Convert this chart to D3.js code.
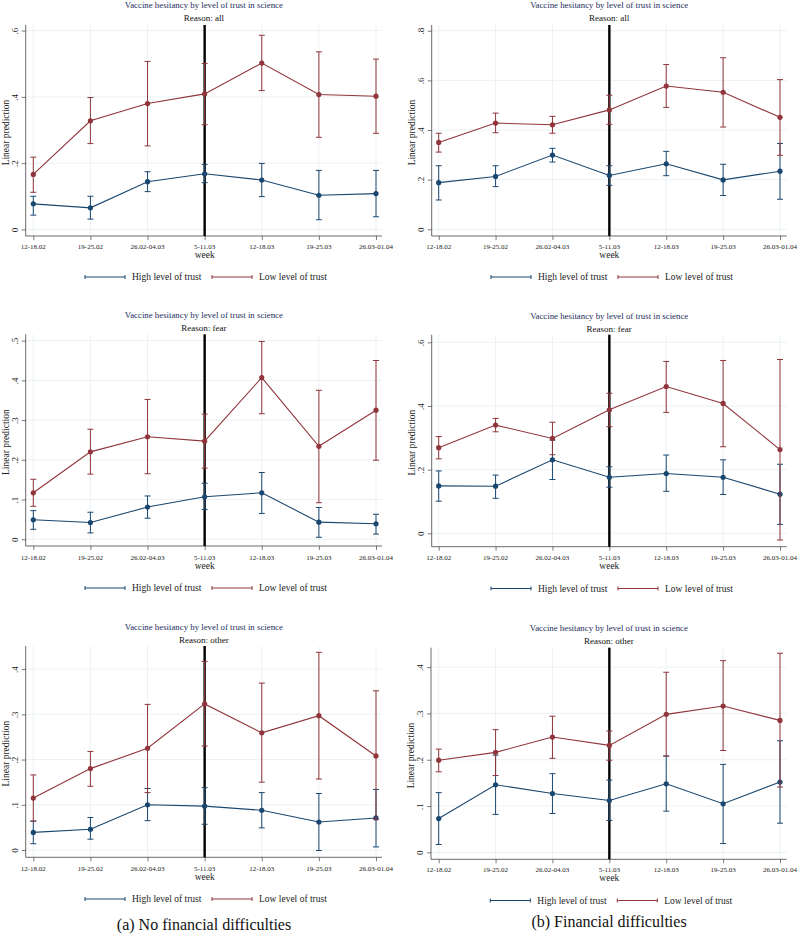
<!DOCTYPE html>
<html><head><meta charset="utf-8">
<script src="https://cdn.jsdelivr.net/npm/d3@7"></script>
<style>
html,body{margin:0;padding:0;background:#fff;}
svg{display:block;font-family:"Liberation Serif","Times New Roman",serif;}
</style></head>
<body>
<svg id="chart" width="798" height="936"></svg>
<script>
// ---------- DATA ----------
const weeks = ["12-18.02","19-25.02","26.02-04.03","5-11.03","12-18.03","19-25.03","26.03-01.04"];
const seriesNames = ["High level of trust","Low level of trust"];
const reasons = ["all","all","fear","fear","other","other"];
const captions = ["(a) No financial difficulties","(b) Financial difficulties"];
const eventWeek = "5-11.03";

// panel 1: no financial difficulties, reason all
const p1High = [0.077,0.065,0.144,0.168,0.149,0.103,0.108];
const p1HighLo = [0.043,0.031,0.114,0.141,0.099,0.029,0.038];
const p1HighHi = [0.100,0.100,0.174,0.196,0.199,0.178,0.178];
const p1Low = [0.166,0.328,0.380,0.409,0.502,0.407,0.402];
const p1LowLo = [0.112,0.259,0.252,0.316,0.419,0.278,0.290];
const p1LowHi = [0.218,0.398,0.507,0.501,0.586,0.536,0.514];
const p1Ticks = [0,0.2,0.4,0.6];

// panel 2: financial difficulties, reason all
const p2High = [0.188,0.213,0.299,0.217,0.264,0.199,0.234];
const p2HighLo = [0.118,0.172,0.271,0.177,0.216,0.136,0.121];
const p2HighHi = [0.256,0.256,0.326,0.256,0.314,0.262,0.346];
const p2Low = [0.350,0.428,0.421,0.481,0.577,0.552,0.451];
const p2LowLo = [0.311,0.389,0.387,0.423,0.491,0.412,0.298];
const p2LowHi = [0.387,0.468,0.455,0.540,0.664,0.691,0.603];
const p2Ticks = [0,0.2,0.4,0.6,0.8];

// panel 3: no financial difficulties, reason fear
const p3High = [0.049,0.042,0.081,0.107,0.117,0.043,0.039];
const p3HighLo = [0.025,0.016,0.053,0.075,0.065,0.005,0.013];
const p3HighHi = [0.072,0.068,0.109,0.141,0.168,0.080,0.063];
const p3Low = [0.117,0.220,0.258,0.247,0.407,0.234,0.325];
const p3LowLo = [0.083,0.164,0.165,0.179,0.316,0.092,0.199];
const p3LowHi = [0.151,0.277,0.352,0.315,0.498,0.375,0.450];
const p3Ticks = [0,0.1,0.2,0.3,0.4,0.5];

// panel 4: financial difficulties, reason fear
const p4High = [0.149,0.148,0.231,0.176,0.188,0.176,0.123];
const p4HighLo = [0.101,0.110,0.169,0.145,0.132,0.122,0.028];
const p4HighHi = [0.196,0.183,0.293,0.209,0.246,0.231,0.217];
const p4Low = [0.269,0.340,0.298,0.388,0.461,0.408,0.263];
const p4LowLo = [0.234,0.319,0.247,0.335,0.380,0.272,-0.021];
const p4LowHi = [0.304,0.361,0.349,0.440,0.540,0.543,0.546];
const p4Ticks = [0,0.2,0.4,0.6];

// panel 5: no financial difficulties, reason other
const p5High = [0.039,0.046,0.100,0.097,0.088,0.062,0.071];
const p5HighLo = [0.014,0.024,0.065,0.057,0.049,-0.001,0.007];
const p5HighHi = [0.064,0.072,0.136,0.138,0.127,0.125,0.134];
const p5Low = [0.115,0.180,0.225,0.323,0.259,0.297,0.208];
const p5LowLo = [0.064,0.141,0.127,0.230,0.150,0.157,0.068];
const p5LowHi = [0.166,0.218,0.322,0.417,0.369,0.437,0.352];
const p5Ticks = [0,0.1,0.2,0.3,0.4];

// panel 6: financial difficulties, reason other
const p6High = [0.073,0.146,0.127,0.112,0.148,0.105,0.152];
const p6HighLo = [0.017,0.082,0.084,0.069,0.089,0.019,0.063];
const p6HighHi = [0.129,0.210,0.170,0.156,0.208,0.190,0.241];
const p6Low = [0.199,0.216,0.249,0.231,0.298,0.316,0.285];
const p6LowLo = [0.174,0.166,0.203,0.199,0.208,0.220,0.141];
const p6LowHi = [0.223,0.265,0.294,0.262,0.389,0.414,0.430];
const p6Ticks = [0,0.1,0.2,0.3,0.4];

const panelData = [
  {high:p1High,highLo:p1HighLo,highHi:p1HighHi,low:p1Low,lowLo:p1LowLo,lowHi:p1LowHi,ticks:p1Ticks},
  {high:p2High,highLo:p2HighLo,highHi:p2HighHi,low:p2Low,lowLo:p2LowLo,lowHi:p2LowHi,ticks:p2Ticks},
  {high:p3High,highLo:p3HighLo,highHi:p3HighHi,low:p3Low,lowLo:p3LowLo,lowHi:p3LowHi,ticks:p3Ticks},
  {high:p4High,highLo:p4HighLo,highHi:p4HighHi,low:p4Low,lowLo:p4LowLo,lowHi:p4LowHi,ticks:p4Ticks},
  {high:p5High,highLo:p5HighLo,highHi:p5HighHi,low:p5Low,lowLo:p5LowLo,lowHi:p5LowHi,ticks:p5Ticks},
  {high:p6High,highLo:p6HighLo,highHi:p6HighHi,low:p6Low,lowLo:p6LowLo,lowHi:p6LowHi,ticks:p6Ticks}
];

// ---------- LAYOUT ----------
const layout = [
  {axisX:25.7, x0:33.3, x1:376, right:382, top:25, bottom:236, yMin:-0.020, yMax:0.617, titleY:8, reasonY:21, tickY:249, weekY:258, legY:277},
  {axisX:431.7, x0:438.7, x1:780, right:786.7, top:25, bottom:236, yMin:-0.027, yMax:0.823, titleY:8, reasonY:21, tickY:249, weekY:258, legY:277},
  {axisX:25.7, x0:33.3, x1:376, right:382, top:334.3, bottom:546, yMin:-0.017, yMax:0.516, titleY:318, reasonY:331, tickY:559.5, weekY:568.5, legY:588},
  {axisX:431.7, x0:438.7, x1:780, right:786.7, top:334.7, bottom:546.7, yMin:-0.042, yMax:0.624, titleY:319, reasonY:332, tickY:560, weekY:569, legY:588.5},
  {axisX:25.7, x0:33.3, x1:376, right:382, top:646, bottom:857.3, yMin:-0.016, yMax:0.451, titleY:630, reasonY:643, tickY:870.5, weekY:879.5, legY:899},
  {axisX:431, x0:438.7, x1:780, right:786.7, top:647.7, bottom:859.3, yMin:-0.015, yMax:0.442, titleY:631, reasonY:644, tickY:872, weekY:881, legY:900.5}
];
const captionPos = [{x:204, y:930}, {x:609, y:927}];

const colHigh = "#1a476f", colLow = "#90353b";
const gridCol = "#e6eef0";
const titleCol = "#1e2e5e";

const svg = d3.select("#chart");
const fmt = v => v === 0 ? "0" : d3.format(".1f")(v).replace(/^0/, "");

layout.forEach((L, i) => {
  const D = panelData[i];
  const g = svg.append("g");
  const x = d3.scalePoint().domain(weeks).range([L.x0, L.x1]);
  const y = d3.scaleLinear().domain([L.yMin, L.yMax]).range([L.bottom, L.top]);
  const cx = (L.axisX + L.right) / 2;

  // gridlines
  g.selectAll(".hg").data(D.ticks).join("line")
    .attr("x1", L.axisX).attr("x2", L.right)
    .attr("y1", d => y(d)).attr("y2", d => y(d))
    .attr("stroke", gridCol).attr("stroke-width", 0.8);
  g.selectAll(".vg").data(weeks).join("line")
    .attr("x1", d => x(d)).attr("x2", d => x(d))
    .attr("y1", L.top).attr("y2", L.bottom)
    .attr("stroke", gridCol).attr("stroke-width", 0.8);

  // axes
  const yAxis = d3.axisLeft(y).tickValues(D.ticks).tickFormat(fmt).tickSize(4).tickPadding(3);
  const ya = g.append("g").attr("transform", `translate(${L.axisX},0)`).call(yAxis);
  ya.select(".domain").attr("d", `M0,${L.top}V${L.bottom}`).attr("stroke", "#444").attr("stroke-width", 0.8);
  ya.selectAll(".tick line").attr("stroke", "#444").attr("stroke-width", 0.7);
  ya.selectAll(".tick text")
    .attr("font-family", "Liberation Serif, serif").attr("font-size", 9).attr("fill", "#222")
    .attr("text-anchor", "middle").attr("dy", 0)
    .attr("x", 0).attr("y", 0)
    .attr("transform", "translate(-8,0) rotate(-90)");

  const xAxis = d3.axisBottom(x).tickSize(4).tickPadding(2).tickFormat("");
  const xa = g.append("g").attr("transform", `translate(0,${L.bottom})`).call(xAxis);
  xa.select(".domain").attr("d", `M${L.axisX},0H${L.right}`).attr("stroke", "#444").attr("stroke-width", 0.8);
  xa.selectAll(".tick line").attr("stroke", "#444").attr("stroke-width", 0.7);
  g.selectAll(".xl").data(weeks).join("text")
    .attr("x", d => x(d)).attr("y", L.tickY).attr("text-anchor", "middle")
    .attr("font-size", 7).attr("fill", "#222").text(d => d);

  // vertical event line
  g.append("line").attr("x1", x(eventWeek)).attr("x2", x(eventWeek))
    .attr("y1", L.top).attr("y2", L.bottom).attr("stroke", "#000").attr("stroke-width", 2.4);

  // series
  const series = [
    {name: seriesNames[0], v: D.high, lo: D.highLo, hi: D.highHi, col: colHigh},
    {name: seriesNames[1], v: D.low, lo: D.lowLo, hi: D.lowHi, col: colLow}
  ];
  series.forEach(s => {
    const pts = weeks.map((w, k) => ({w, v: s.v[k], lo: s.lo[k], hi: s.hi[k]}));
    g.selectAll(null).data(pts).join("line")
      .attr("x1", d => x(d.w)).attr("x2", d => x(d.w))
      .attr("y1", d => y(d.lo)).attr("y2", d => y(d.hi))
      .attr("stroke", s.col).attr("stroke-width", 1);
    ["lo", "hi"].forEach(key => {
      g.selectAll(null).data(pts).join("line")
        .attr("x1", d => x(d.w) - 3).attr("x2", d => x(d.w) + 3)
        .attr("y1", d => y(d[key])).attr("y2", d => y(d[key]))
        .attr("stroke", s.col).attr("stroke-width", 1);
    });
    g.append("path").datum(pts)
      .attr("d", d3.line().x(d => x(d.w)).y(d => y(d.v)))
      .attr("fill", "none").attr("stroke", s.col).attr("stroke-width", 1.1);
    g.selectAll(null).data(pts).join("circle")
      .attr("cx", d => x(d.w)).attr("cy", d => y(d.v)).attr("r", 2.6)
      .attr("fill", s.col);
  });

  // titles
  g.append("text").attr("x", cx).attr("y", L.titleY).attr("text-anchor", "middle")
    .attr("font-size", 8.8).attr("fill", titleCol)
    .text("Vaccine hesitancy by level of trust in science");
  g.append("text").attr("x", cx).attr("y", L.reasonY).attr("text-anchor", "middle")
    .attr("font-size", 9).attr("fill", "#111").text("Reason: " + reasons[i]);

  // axis titles
  g.append("text").attr("x", x(eventWeek)).attr("y", L.weekY).attr("text-anchor", "middle")
    .attr("font-size", 9.5).attr("fill", "#222").text("week");
  g.append("text")
    .attr("transform", `translate(${L.axisX - 17},${(L.top + L.bottom) / 2 + 2}) rotate(-90)`)
    .attr("text-anchor", "middle").attr("font-size", 9.5).attr("fill", "#222")
    .text("Linear prediction");

  // legend
  const legX = [L.axisX + 59.3, L.axisX + 186.3];
  series.forEach((s, k) => {
    const lx = legX[k];
    const lg = g.append("g");
    lg.append("line").attr("x1", lx).attr("x2", lx + 40).attr("y1", L.legY).attr("y2", L.legY)
      .attr("stroke", s.col).attr("stroke-width", 1);
    [lx, lx + 40].forEach(px => lg.append("line").attr("x1", px).attr("x2", px)
      .attr("y1", L.legY - 2).attr("y2", L.legY + 2).attr("stroke", s.col).attr("stroke-width", 1));
    lg.append("text").attr("x", lx + 47).attr("y", L.legY + 3).attr("font-size", 9.5)
      .attr("fill", "#222").text(s.name);
  });
});

captions.forEach((c, k) => {
  svg.append("text").attr("x", captionPos[k].x).attr("y", captionPos[k].y)
    .attr("text-anchor", "middle").attr("font-size", 16).attr("fill", "#111").text(c);
});
</script>
</body></html>
